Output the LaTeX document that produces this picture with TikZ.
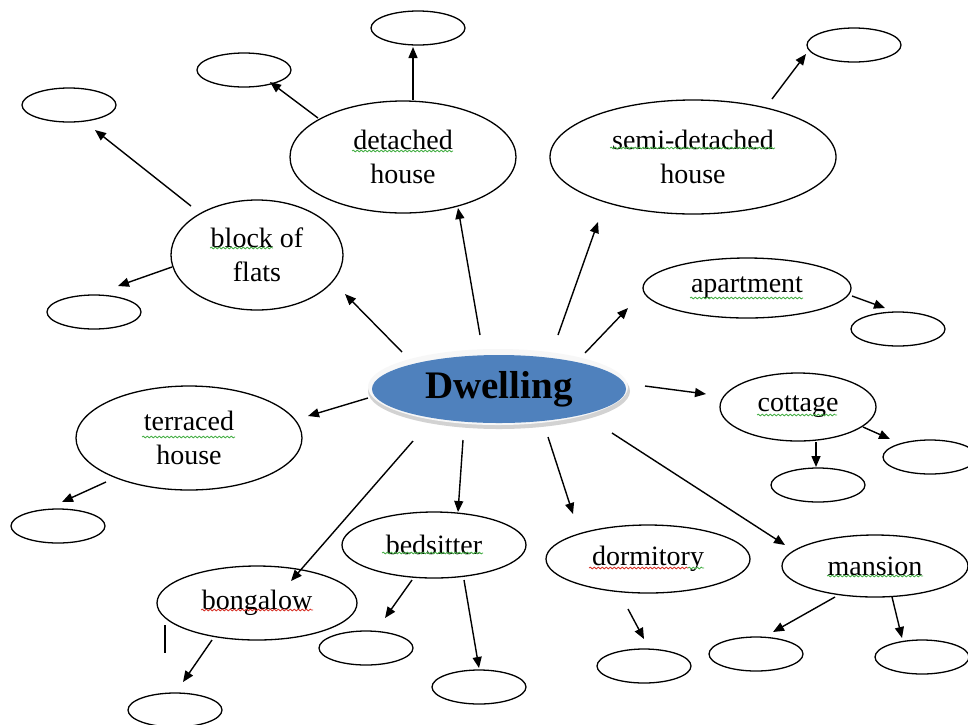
\documentclass[tikz,border=0pt]{standalone}
\usepackage{fontspec}
\setmainfont{Liberation Serif}
\usetikzlibrary{arrows.meta,shapes.geometric,decorations.pathmorphing}
\definecolor{dwblue}{RGB}{79,129,189}
\definecolor{spgreen}{RGB}{70,175,70}
\definecolor{spred}{RGB}{215,50,40}
\begin{document}
\begin{tikzpicture}[x=1pt,y=-1pt,
 bubble/.style={ellipse, draw, line width=1.3pt, inner sep=0pt, align=center, font=\fontsize{28}{34}\selectfont},
 blank/.style={ellipse, draw, line width=1.3pt, minimum width=94pt, minimum height=34pt, inner sep=0pt},
 arr/.style={line width=1.4pt, -{Triangle[length=11pt,width=9pt]}},
 squig/.style={decorate, decoration={snake, amplitude=0.9pt, segment length=4pt}, line width=0.8pt},
]
\clip (0,0) rectangle (968,724);
\fill[white] (0,0) rectangle (968,724);

% central node
\fill[gray!35] (499,391) ellipse [x radius=131pt, y radius=38pt];
\fill[gray!6] (498,387) ellipse [x radius=130pt, y radius=38pt];
\node[ellipse, fill=dwblue, minimum width=254pt, minimum height=68pt, inner sep=0pt,
      font=\bfseries\fontsize{39}{44}\selectfont] (dw) at (499,389) {Dwelling};

% labelled ellipses
\node[bubble, minimum width=226pt, minimum height=112pt] (det) at (403,157) {detached\\house};
\node[bubble, minimum width=286pt, minimum height=114pt] (semi) at (693,157) {semi-detached\\house};
\node[bubble, minimum width=172pt, minimum height=110pt] (blk) at (257,255) {block of\\flats};
\node[bubble, minimum width=208pt, minimum height=60pt] (apt) at (747,288) {apartment};
\node[bubble, minimum width=156pt, minimum height=68pt] (cot) at (798,407) {cottage};
\node[bubble, minimum width=186pt, minimum height=62pt] (man) at (875,566) {mansion};
\node[bubble, minimum width=204pt, minimum height=68pt] (dorm) at (648,559) {dormitory};
\node[bubble, minimum width=184pt, minimum height=66pt] (bed) at (434,545) {bedsitter};
\node[bubble, minimum width=200pt, minimum height=74pt] (bong) at (257,603) {bongalow};
\node[bubble, minimum width=226pt, minimum height=104pt] (ter) at (189,438) {terraced\\house};

% blank ellipses
\node[blank] (detT) at (418,28) {};
\node[blank] (detL) at (244,70) {};
\node[blank] (semiR) at (854,45) {};
\node[blank] (blkT) at (69,105) {};
\node[blank] (blkB) at (94,312) {};
\node[blank] (aptR) at (898,329) {};
\node[blank] (cotB) at (818,485) {};
\node[blank] (cotR) at (930,457) {};
\node[blank] (manL) at (756,654) {};
\node[blank] (manR) at (922,657) {};
\node[blank] (dormB) at (644,666) {};
\node[blank] (bedL) at (366,648) {};
\node[blank] (bedR) at (479,687) {};
\node[blank] (bongB) at (175,710) {};
\node[blank] (terB) at (58,526) {};

% arrow end points
\coordinate (dwA1) at (402,352); \coordinate (blkIn) at (345,294);
\coordinate (dwA2) at (480,335); \coordinate (detIn) at (458,208);
\coordinate (dwA3) at (558,335); \coordinate (semiIn) at (598,222);
\coordinate (dwA4) at (585,353); \coordinate (aptIn) at (628,308);
\coordinate (dwA5) at (645,386); \coordinate (cotIn) at (706,394);
\coordinate (dwA6) at (612,433); \coordinate (manIn) at (785,545);
\coordinate (dwA7) at (548,437); \coordinate (dormIn) at (573,514);
\coordinate (dwA8) at (463,440); \coordinate (bedIn) at (458,512);
\coordinate (dwA9) at (413,441); \coordinate (bongIn) at (291,581);
\coordinate (dwA10) at (368,398); \coordinate (terIn) at (308,416);

\coordinate (detO1) at (413,100); \coordinate (detTIn) at (413,47);
\coordinate (detO2) at (318,118); \coordinate (detLIn) at (270,82);
\coordinate (semiO) at (772,99); \coordinate (semiRIn) at (806,54);
\coordinate (blkO1) at (191,206); \coordinate (blkTIn) at (95,130);
\coordinate (blkO2) at (172,267); \coordinate (blkBIn) at (118,286);
\coordinate (aptO) at (852,296); \coordinate (aptRIn) at (885,308);
\coordinate (cotO1) at (816,442); \coordinate (cotBIn) at (816,467);
\coordinate (cotO2) at (863,427); \coordinate (cotRIn) at (890,439);
\coordinate (manO1) at (835,597); \coordinate (manLIn) at (773,632);
\coordinate (manO2) at (892,597); \coordinate (manRIn) at (902,638);
\coordinate (dormO) at (628,609); \coordinate (dormBIn) at (644,639);
\coordinate (bedO1) at (412,580); \coordinate (bedLIn) at (385,618);
\coordinate (bedO2) at (464,580); \coordinate (bedRIn) at (479,668);
\coordinate (bongO) at (212,640); \coordinate (bongBIn) at (183,682);
\coordinate (terO) at (106,482); \coordinate (terBIn) at (62,502);

% connectors
\draw[arr] (dwA1) -- (blkIn);
\draw[arr] (dwA2) -- (detIn);
\draw[arr] (dwA3) -- (semiIn);
\draw[arr] (dwA4) -- (aptIn);
\draw[arr] (dwA5) -- (cotIn);
\draw[arr] (dwA6) -- (manIn);
\draw[arr] (dwA7) -- (dormIn);
\draw[arr] (dwA8) -- (bedIn);
\draw[arr] (dwA9) -- (bongIn);
\draw[arr] (dwA10) -- (terIn);

\draw[arr] (detO1) -- (detTIn);
\draw[arr] (detO2) -- (detLIn);
\draw[arr] (semiO) -- (semiRIn);
\draw[arr] (blkO1) -- (blkTIn);
\draw[arr] (blkO2) -- (blkBIn);
\draw[arr] (aptO) -- (aptRIn);
\draw[arr] (cotO1) -- (cotBIn);
\draw[arr] (cotO2) -- (cotRIn);
\draw[arr] (manO1) -- (manLIn);
\draw[arr] (manO2) -- (manRIn);
\draw[arr] (dormO) -- (dormBIn);
\draw[arr] (bedO1) -- (bedLIn);
\draw[arr] (bedO2) -- (bedRIn);
\draw[arr] (bongO) -- (bongBIn);
\draw[arr] (terO) -- (terBIn);

% spell-check underlines
\draw[squig, spgreen] (352,151) -- (453,151);
\draw[squig, spgreen] (610,148) -- (775,148);
\draw[squig, spgreen] (210,248) -- (273,248);
\draw[squig, spgreen] (757,415) -- (837,415);
\draw[squig, spgreen] (690,298) -- (803,298);
\draw[squig, spgreen] (142,437) -- (235,437);
\draw[squig, spgreen] (382,553) -- (483,553);
\draw[squig, spgreen] (827,576) -- (923,576);
\draw[squig, spred] (589,568) -- (688,568);
\draw[squig, spgreen] (688,568) -- (704,568);
\draw[squig, spred] (201,610) -- (313,610);

% text cursor
\draw[line width=2.5pt] (165,625) -- (165,653);
\end{tikzpicture}
\end{document}
